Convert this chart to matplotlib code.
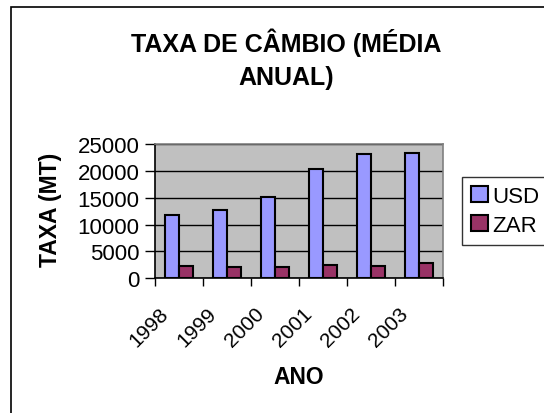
import matplotlib
matplotlib.use("Agg")
import matplotlib.pyplot as plt
import matplotlib.transforms as mtransforms
import numpy as np
from matplotlib.patches import Rectangle

years = ["1998", "1999", "2000", "2001", "2002", "2003"]
usd = [11840, 12710, 15130, 20400, 23190, 23380]
zar = [2230, 2050, 2140, 2480, 2230, 2850]
yticks = [0, 5000, 10000, 15000, 20000, 25000]

plt.rcParams['font.family'] = ['Liberation Sans', 'DejaVu Sans']

W, H = 544, 414
fig = plt.figure(figsize=(W / 100, H / 100), dpi=100)
fig.patch.set_facecolor('white')

# outer chart frame
fig.patches.append(Rectangle((11 / W, -0.1), 1.2, (H - 8) / H + 0.1, transform=fig.transFigure,
                             fill=False, edgecolor='black', linewidth=1.2))

left, right, top, bottom = 155, 443, 145, 279.3
ax = fig.add_axes([left / W, 1 - bottom / H, (right - left) / W, (bottom - top) / H])
ax.set_facecolor('#C0C0C0')

x = np.arange(len(years))
bw = 0.29
ax.bar(x - bw / 2, usd, bw, color='#9999FF', edgecolor='black', linewidth=1.5, label='USD', zorder=3)
ax.bar(x + bw / 2, zar, bw, color='#993366', edgecolor='black', linewidth=1.5, label='ZAR', zorder=3)

ax.set_xlim(-0.5, len(years) - 0.5)
ax.set_ylim(0, 25000)
ax.set_yticks(yticks)
ax.set_yticklabels([str(v) for v in yticks], fontsize=16)
ax.yaxis.grid(True, color='black', linewidth=1, zorder=1)
ax.set_axisbelow(True)

ax.set_xticks(np.arange(len(years) + 1) - 0.5)
ax.set_xticklabels([])
ax.set_xticks(x, minor=True)
ax.set_xticklabels(years, minor=True, rotation=45, ha='right', va='center', fontsize=15,
                   rotation_mode='anchor')
ax.tick_params(axis='x', which='minor', length=0, pad=0)
ax.tick_params(axis='x', which='major', length=6, width=1, direction='out')
ax.tick_params(axis='y', length=7, width=1, direction='out', pad=4)
off = mtransforms.ScaledTranslation(-14 / 100, -32 / 100, fig.dpi_scale_trans)
for lab in ax.get_xticklabels(minor=True):
    lab.set_transform(lab.get_transform() + off)

for s in ['top', 'right']:
    ax.spines[s].set_color('#808080')
    ax.spines[s].set_linewidth(1.2)
for s in ['left', 'bottom']:
    ax.spines[s].set_color('black')
    ax.spines[s].set_linewidth(1.2)

ax.set_ylabel('TAXA (MT)', fontsize=16.5, fontweight='bold', va='center')
ax.yaxis.set_label_coords((51 - left) / (right - left), (bottom - 210) / (bottom - top))
ax.set_xlabel('ANO', fontsize=16.5, fontweight='bold', va='center')
ax.xaxis.set_label_coords((299 - left) / (right - left), (bottom - 378) / (bottom - top))

fig.text(286 / W, 1 - 59 / H, 'TAXA DE CÂMBIO (MÉDIA\nANUAL)', ha='center', va='center',
         fontsize=18, fontweight='bold', linespacing=1.45)

leg = fig.legend(loc='upper left', bbox_to_anchor=(462 / W, 1 - 178 / H), fontsize=16,
                 frameon=True, fancybox=False, edgecolor='black', handlelength=0.75,
                 handleheight=0.75, handletextpad=0.2, borderpad=0.4, labelspacing=0.35,
                 borderaxespad=0)
leg.get_frame().set_linewidth(1.0)

fig.savefig('out.png', dpi=100)
